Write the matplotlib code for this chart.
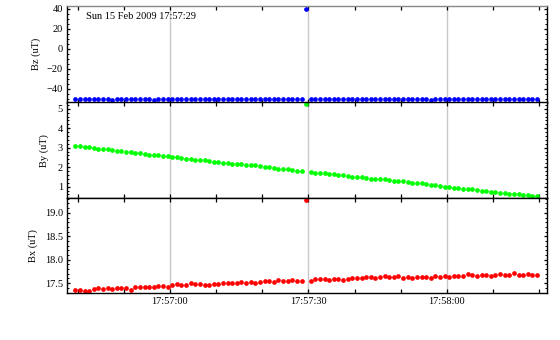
import datetime as dt
import numpy as np
import pandas as pd
import matplotlib
matplotlib.use("Agg")
import matplotlib.pyplot as plt
import matplotlib.dates as mdates
from matplotlib.ticker import MultipleLocator

plt.rcParams['font.family'] = ['Liberation Serif', 'DejaVu Serif']
plt.rcParams['font.size'] = 7.5

# 1 Hz samples, 15 Feb 2009
start = "2009-02-15 17:56:39.5"
n_samples = 101
title = "Sun 15 Feb 2009 17:57:29"

bz = [-50.6, -50.6, -50.6, -50.6, -50.6, -50.6, -50.6, -50.6, -51.6, -50.6,
      -50.6, -50.6, -50.6, -50.6, -50.6, -50.6, -50.6, -51.6, -50.6, -50.6,
      -50.6, -50.6, -50.6, -50.6, -50.6, -50.6, -50.6, -50.6, -50.6, -50.6,
      -50.6, -50.6, -50.6, -50.6, -50.6, -50.6, -50.6, -50.6, -50.6, -50.6,
      -50.6, -50.6, -50.6, -50.6, -50.6, -50.6, -50.6, -50.6, -50.6, -50.6,
      40.0,
      -50.6, -50.6, -50.6, -50.6, -50.6, -50.6, -50.6, -50.6, -50.6, -50.6,
      -50.6, -50.6, -50.6, -50.6, -50.6, -50.6, -50.6, -50.6, -50.6, -50.6,
      -50.6, -50.6, -50.6, -50.6, -50.6, -50.6, -51.6, -50.6, -50.6, -50.6,
      -50.6, -50.6, -50.6, -50.6, -50.6, -50.6, -50.6, -50.6, -50.6, -50.6,
      -50.6, -50.6, -50.6, -50.6, -50.6, -50.6, -50.6, -50.6, -50.6, -50.6]

by = [3.09, 3.09, 3.04, 3.04, 3.00, 2.93, 2.93, 2.93, 2.88, 2.85,
      2.85, 2.80, 2.80, 2.75, 2.75, 2.69, 2.64, 2.64, 2.63, 2.59,
      2.59, 2.54, 2.52, 2.47, 2.44, 2.44, 2.39, 2.39, 2.39, 2.34,
      2.28, 2.28, 2.23, 2.22, 2.18, 2.18, 2.18, 2.13, 2.13, 2.13,
      2.08, 2.03, 2.03, 1.96, 1.93, 1.93, 1.93, 1.87, 1.82, 1.82,
      5.22,
      1.75, 1.70, 1.70, 1.70, 1.65, 1.65, 1.60, 1.60, 1.55, 1.50,
      1.50, 1.50, 1.45, 1.40, 1.40, 1.40, 1.40, 1.34, 1.29, 1.29,
      1.29, 1.24, 1.19, 1.19, 1.19, 1.14, 1.09, 1.09, 1.04, 0.99,
      0.99, 0.93, 0.93, 0.88, 0.88, 0.88, 0.83, 0.78, 0.78, 0.73,
      0.73, 0.68, 0.68, 0.63, 0.63, 0.63, 0.57, 0.57, 0.52, 0.52]

bx = [17.36, 17.36, 17.34, 17.33, 17.37, 17.39, 17.37, 17.39, 17.37, 17.39,
      17.39, 17.39, 17.36, 17.41, 17.41, 17.41, 17.41, 17.41, 17.43, 17.43,
      17.41, 17.45, 17.48, 17.46, 17.46, 17.50, 17.48, 17.48, 17.46, 17.46,
      17.48, 17.48, 17.50, 17.50, 17.50, 17.50, 17.52, 17.50, 17.52, 17.50,
      17.52, 17.54, 17.54, 17.52, 17.56, 17.54, 17.54, 17.56, 17.54, 17.54,
      19.28,
      17.54, 17.58, 17.58, 17.58, 17.56, 17.58, 17.58, 17.56, 17.58, 17.61,
      17.61, 17.61, 17.63, 17.63, 17.61, 17.63, 17.65, 17.63, 17.63, 17.65,
      17.61, 17.63, 17.61, 17.63, 17.63, 17.63, 17.61, 17.65, 17.63, 17.65,
      17.63, 17.65, 17.65, 17.65, 17.69, 17.67, 17.65, 17.67, 17.67, 17.65,
      17.67, 17.69, 17.67, 17.67, 17.71, 17.67, 17.67, 17.69, 17.67, 17.67]

times = pd.date_range(start, periods=n_samples, freq="1s").to_pydatetime()

panels = [
    ("Bz (uT)", bz, "#0000ff", (-54.0, 42.7), 20, 5, [0.6985, 0.2838], -0.054),
    ("By (uT)", by, "#00ff00", (0.405, 5.32), 1, 0.2, [0.4168, 0.2818], -0.0375),
    ("Bx (uT)", bx, "#ff0000", (17.30, 19.31), 0.5, 0.1, [0.1397, 0.2771], -0.060),
]

fig = plt.figure(figsize=(5.6, 3.4), dpi=100)
xmin = dt.datetime(2009, 2, 15, 17, 56, 37, 700000)
xmax = dt.datetime(2009, 2, 15, 17, 58, 21, 650000)

axes = []
for i, (label, vals, color, ylim, major, minor, (bot, h), lx) in enumerate(panels):
    ax = fig.add_axes([0.1196, bot, 0.857, h])
    ax.plot(times, vals, 'o', color=color, ms=3.4, mec=color, mew=0, clip_on=True)
    ax.set_xlim(xmin, xmax)
    ax.set_ylim(*ylim)
    ax.xaxis.set_major_locator(mdates.SecondLocator(bysecond=[0, 30]))
    ax.xaxis.set_minor_locator(mdates.SecondLocator(bysecond=[10, 20, 40, 50]))
    ax.xaxis.set_major_formatter(mdates.DateFormatter('%H:%M:%S'))
    ax.yaxis.set_major_locator(MultipleLocator(major))
    ax.yaxis.set_minor_locator(MultipleLocator(minor))
    ax.grid(True, axis='x', which='major', color='#c8c8c8', lw=1.0)
    ax.tick_params(axis='x', which='both', direction='in', top=True, bottom=True,
                   length=3.0, width=0.9, pad=3.5, labelbottom=(i == 2))
    ax.tick_params(axis='y', which='major', direction='in', left=True, right=True,
                   length=2.2, width=0.9, pad=3)
    ax.tick_params(axis='y', which='minor', direction='in', left=True, right=True,
                   length=1.2, width=0.7)
    for s in ax.spines.values():
        s.set_linewidth(1.0)
    if i == 0:
        ax.spines['top'].set_color('#888888')
        ax.text(0.04, 0.889, title, transform=ax.transAxes, va='center', ha='left')
    ax.set_ylabel(label)
    ax.yaxis.set_label_coords(lx, 0.5)
    axes.append(ax)

fig.savefig("out.png", dpi=100)
